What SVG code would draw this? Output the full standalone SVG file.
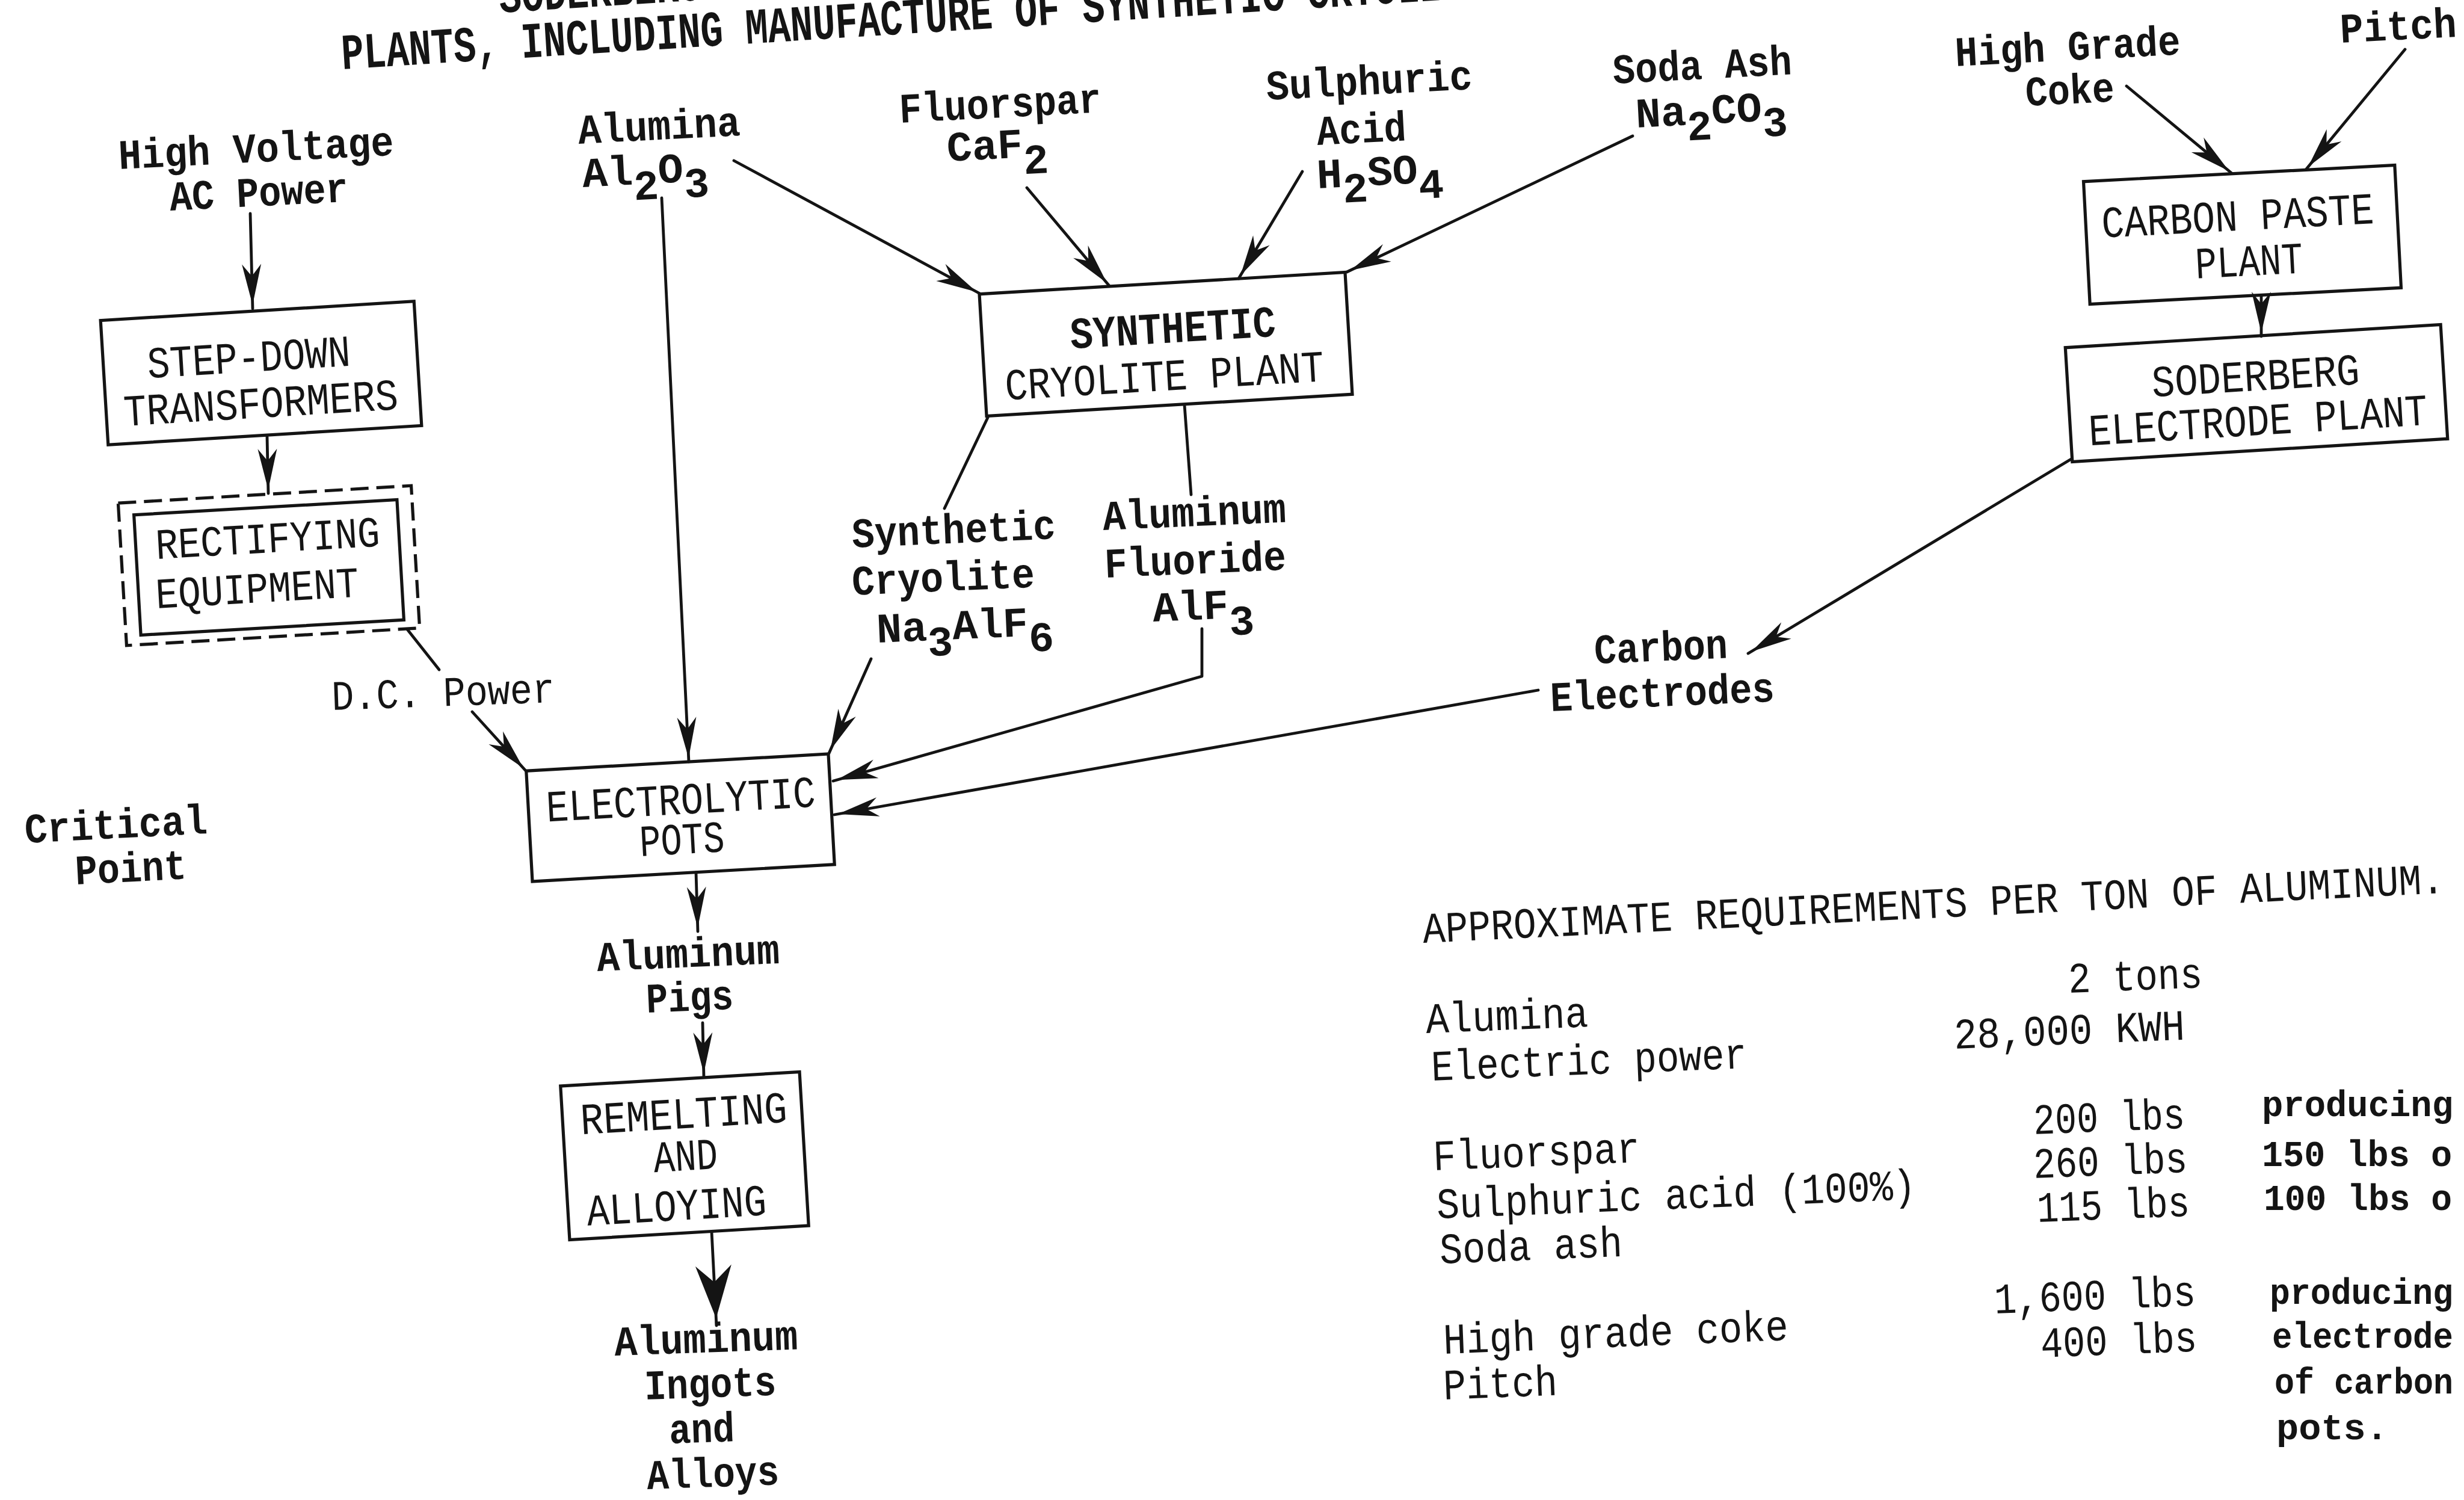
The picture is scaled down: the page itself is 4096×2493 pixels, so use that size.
<svg xmlns="http://www.w3.org/2000/svg" width="4096" height="2493" viewBox="0 0 4096 2493">
<defs>
<style>
.ln{stroke:#141414;stroke-width:4.8;fill:none;stroke-linecap:round;stroke-linejoin:round}
.bx{stroke:#141414;stroke-width:5.2;fill:none}
.dash{stroke-dasharray:30 13}
text{fill:#141414}
.lb{font-family:"Liberation Mono",monospace;font-weight:bold;font-size:70px}
.lr{font-family:"Liberation Mono",monospace;font-size:70px}
.bt{font-family:"Liberation Mono",monospace;font-size:74px;text-anchor:middle}
.tb{font-family:"Liberation Mono",monospace;font-size:72px}
.pr{font-family:"Liberation Mono",monospace;font-weight:bold;font-size:62px}
.ti{font-family:"Liberation Mono",monospace;font-weight:bold;font-size:84px}
</style>
<marker id="ah" markerUnits="userSpaceOnUse" viewBox="-72 -20 92 40" markerWidth="92" markerHeight="40" refX="6" refY="0" orient="auto"><path d="M0,0 L-68,-16 L-48,0 L-68,16 Z" fill="#141414"/></marker>
<marker id="ahb" markerUnits="userSpaceOnUse" viewBox="-100 -35 115 70" markerWidth="115" markerHeight="70" refX="12" refY="0" orient="auto"><path d="M0,0 L-88,-30 L-60,0 L-88,30 Z" fill="#141414"/></marker>
</defs>
<rect width="4096" height="2493" fill="#ffffff"/>

<g id="title">
<text class="ti" x="831" y="21" textLength="336" lengthAdjust="spacingAndGlyphs" transform="rotate(-3.6 831 21)">SODERBERG</text>
<text class="ti" x="569" y="115" textLength="1907" lengthAdjust="spacingAndGlyphs" transform="rotate(-3.6 569 115)">PLANTS, INCLUDING MANUFACTURE OF SYNTHETIC CRYOLITE</text>
</g>

<g id="connectors">
<path class="ln" d="M416,355 L420,513" marker-end="url(#ah)"/>
<path class="ln" d="M444,726 L446,820" marker-end="url(#ah)"/>
<path class="ln" d="M677,1046 L730,1113"/>
<path class="ln" d="M785,1183 L874,1281" marker-end="url(#ah)"/>
<path class="ln" d="M1100,329 L1145,1266" marker-end="url(#ah)"/>
<path class="ln" d="M1220,267 L1629,488" marker-end="url(#ah)"/>
<path class="ln" d="M1707,312 L1844,475" marker-end="url(#ah)"/>
<path class="ln" d="M2165,285 L2059,463" marker-end="url(#ah)"/>
<path class="ln" d="M2714,226 L2239,452" marker-end="url(#ah)"/>
<path class="ln" d="M1642,694 L1570,845"/>
<path class="ln" d="M1969,673 L1980,822"/>
<path class="ln" d="M1448,1095 L1378,1252" marker-end="url(#ah)"/>
<path class="ln" d="M1998,1045 L1998,1124 L1385,1298" marker-end="url(#ah)"/>
<path class="ln" d="M2557,1147 L1387,1354" marker-end="url(#ah)"/>
<path class="ln" d="M3443,763 L2906,1086" marker-end="url(#ah)"/>
<path class="ln" d="M3535,143 L3710,288" marker-end="url(#ah)"/>
<path class="ln" d="M3998,82 L3833,282" marker-end="url(#ah)"/>
<path class="ln" d="M3759,491 L3759,559" marker-end="url(#ah)"/>
<path class="ln" d="M1157,1450 L1160,1548" marker-end="url(#ah)"/>
<path class="ln" d="M1168,1700 L1170,1790" marker-end="url(#ah)"/>
<path class="ln" d="M1183,2047 L1191,2203" marker-end="url(#ahb)"/>
</g>

<g id="n-hv">
<text class="lb" x="198" y="281" textLength="458" lengthAdjust="spacingAndGlyphs" transform="rotate(-2.9 198 281)">High Voltage</text>
<text class="lb" x="283" y="350" textLength="297" lengthAdjust="spacingAndGlyphs" transform="rotate(-2.9 283 350)">AC Power</text>
</g>

<g id="n-stepdown">
<rect class="bx" x="173" y="516.5" width="522" height="207" transform="rotate(-3.5 434 620)"/>
<text class="bt" x="415" y="618" textLength="338" lengthAdjust="spacingAndGlyphs" transform="rotate(-3.5 415 618)">STEP-DOWN</text>
<text class="bt" x="435" y="694" textLength="457" lengthAdjust="spacingAndGlyphs" transform="rotate(-3.5 435 694)">TRANSFORMERS</text>
</g>

<g id="n-rectifying">
<rect class="bx dash" x="203" y="821.5" width="488" height="237" transform="rotate(-3.4 447 940)"/>
<rect class="bx" x="228" y="843" width="438" height="200" transform="rotate(-3.3 447 943)"/>
<text class="tb" font-size="74" x="260" y="929" textLength="373" lengthAdjust="spacingAndGlyphs" transform="rotate(-3.3 260 929)">RECTIFYING</text>
<text class="tb" font-size="74" x="260" y="1011" textLength="338" lengthAdjust="spacingAndGlyphs" transform="rotate(-3.3 260 1011)">EQUIPMENT</text>
</g>

<g id="n-dcpower">
<text class="lr" x="552" y="1180" textLength="371" lengthAdjust="spacingAndGlyphs" transform="rotate(-2 552 1180)">D.C. Power</text>
</g>

<g id="n-critical">
<text class="lb" x="42" y="1401" textLength="304" lengthAdjust="spacingAndGlyphs" transform="rotate(-3 42 1401)">Critical</text>
<text class="lb" x="126" y="1470" textLength="185" lengthAdjust="spacingAndGlyphs" transform="rotate(-3 126 1470)">Point</text>
</g>

<g id="n-alumina">
<text class="lb" x="962" y="239" textLength="270" lengthAdjust="spacingAndGlyphs" transform="rotate(-3 962 239)">Alumina</text>
<text class="lb" x="969" y="311" transform="rotate(-3 969 311)">Al<tspan dy="26">2</tspan><tspan dy="-26">O</tspan><tspan dy="26">3</tspan></text>
</g>

<g id="n-fluorspar">
<text class="lb" x="1496" y="204" textLength="336" lengthAdjust="spacingAndGlyphs" transform="rotate(-3 1496 204)">Fluorspar</text>
<text class="lb" x="1575" y="268" transform="rotate(-3 1575 268)">CaF<tspan dy="28">2</tspan></text>
</g>

<g id="n-sulphuric">
<text class="lb" x="2106" y="166" textLength="343" lengthAdjust="spacingAndGlyphs" transform="rotate(-3 2106 166)">Sulphuric</text>
<text class="lb" x="2190" y="241" textLength="149" lengthAdjust="spacingAndGlyphs" transform="rotate(-3 2190 241)">Acid</text>
<text class="lb" x="2190" y="313" transform="rotate(-3 2190 313)">H<tspan dy="26">2</tspan><tspan dy="-26">SO</tspan><tspan dy="26">4</tspan></text>
</g>

<g id="n-sodaash">
<text class="lb" x="2682" y="139" textLength="298" lengthAdjust="spacingAndGlyphs" transform="rotate(-3 2682 139)">Soda Ash</text>
<text class="lb" x="2720" y="212" transform="rotate(-3 2720 212)">Na<tspan dy="26">2</tspan><tspan dy="-26">CO</tspan><tspan dy="26">3</tspan></text>
</g>

<g id="n-cryolite-plant">
<rect class="bx" x="1633.5" y="470.5" width="609" height="203" transform="rotate(-3.4 1938 572)"/>
<text class="bt" x="1951" y="569" textLength="342" lengthAdjust="spacingAndGlyphs" font-weight="bold" transform="rotate(-3.4 1951 569)">SYNTHETIC</text>
<text class="bt" x="1937" y="649" textLength="531" lengthAdjust="spacingAndGlyphs" transform="rotate(-3.4 1937 649)">CRYOLITE PLANT</text>
</g>

<g id="n-synth-cryolite">
<text class="lb" x="1417" y="910" textLength="339" lengthAdjust="spacingAndGlyphs" transform="rotate(-2.5 1417 910)">Synthetic</text>
<text class="lb" x="1417" y="989" textLength="304" lengthAdjust="spacingAndGlyphs" transform="rotate(-2.5 1417 989)">Cryolite</text>
<text class="lb" x="1458" y="1068" transform="rotate(-2.5 1458 1068)">Na<tspan dy="26">3</tspan><tspan dy="-26">AlF</tspan><tspan dy="26">6</tspan></text>
</g>

<g id="n-alf3">
<text class="lb" x="1834" y="881" textLength="305" lengthAdjust="spacingAndGlyphs" transform="rotate(-2.5 1834 881)">Aluminum</text>
<text class="lb" x="1837" y="960" textLength="302" lengthAdjust="spacingAndGlyphs" transform="rotate(-2.5 1837 960)">Fluoride</text>
<text class="lb" x="1917" y="1033" transform="rotate(-2.5 1917 1033)">AlF<tspan dy="28">3</tspan></text>
</g>

<g id="n-electrolytic">
<rect class="bx" x="879.5" y="1267" width="503" height="184" transform="rotate(-3.2 1131 1359)"/>
<text class="bt" x="1133" y="1353" textLength="448" lengthAdjust="spacingAndGlyphs" transform="rotate(-3.2 1133 1353)">ELECTROLYTIC</text>
<text class="bt" x="1135" y="1419" textLength="141" lengthAdjust="spacingAndGlyphs" transform="rotate(-3.2 1135 1419)">POTS</text>
</g>

<g id="n-pigs">
<text class="lb" x="993" y="1614" textLength="304" lengthAdjust="spacingAndGlyphs" transform="rotate(-2.5 993 1614)">Aluminum</text>
<text class="lb" x="1075" y="1683" textLength="145" lengthAdjust="spacingAndGlyphs" transform="rotate(-2.5 1075 1683)">Pigs</text>
</g>

<g id="n-remelting">
<rect class="bx" x="939" y="1793" width="398" height="256" transform="rotate(-3.4 1138 1921)"/>
<text class="bt" x="1138" y="1875" textLength="344" lengthAdjust="spacingAndGlyphs" transform="rotate(-3.4 1138 1875)">REMELTING</text>
<text class="bt" x="1141" y="1945" textLength="107" lengthAdjust="spacingAndGlyphs" transform="rotate(-3.4 1141 1945)">AND</text>
<text class="bt" x="1126" y="2028" textLength="299" lengthAdjust="spacingAndGlyphs" transform="rotate(-3.4 1126 2028)">ALLOYING</text>
</g>

<g id="n-ingots">
<text class="lb" x="1022" y="2253" textLength="305" lengthAdjust="spacingAndGlyphs" transform="rotate(-2 1022 2253)">Aluminum</text>
<text class="lb" x="1072" y="2326" textLength="219" lengthAdjust="spacingAndGlyphs" transform="rotate(-2 1072 2326)">Ingots</text>
<text class="lb" x="1113" y="2399" textLength="109" lengthAdjust="spacingAndGlyphs" transform="rotate(-2 1113 2399)">and</text>
<text class="lb" x="1076" y="2475" textLength="220" lengthAdjust="spacingAndGlyphs" transform="rotate(-2 1076 2475)">Alloys</text>
</g>

<g id="n-coke">
<text class="lb" x="3251" y="110" textLength="375" lengthAdjust="spacingAndGlyphs" transform="rotate(-3 3251 110)">High Grade</text>
<text class="lb" x="3368" y="176" textLength="148" lengthAdjust="spacingAndGlyphs" transform="rotate(-3 3368 176)">Coke</text>
</g>

<g id="n-pitch">
<text class="lb" x="3891" y="71" textLength="194" lengthAdjust="spacingAndGlyphs" transform="rotate(-3 3891 71)">Pitch</text>
</g>

<g id="n-carbon-paste">
<rect class="bx" x="3468.5" y="288" width="518" height="204" transform="rotate(-3 3727.5 390)"/>
<text class="bt" x="3721" y="383" textLength="453" lengthAdjust="spacingAndGlyphs" transform="rotate(-3 3721 383)">CARBON PASTE</text>
<text class="bt" x="3740" y="458" textLength="179" lengthAdjust="spacingAndGlyphs" transform="rotate(-3 3740 458)">PLANT</text>
</g>

<g id="n-soderberg">
<rect class="bx" x="3438.5" y="558.5" width="625" height="190" transform="rotate(-3.5 3751 653.5)"/>
<text class="bt" x="3751" y="649" textLength="346" lengthAdjust="spacingAndGlyphs" transform="rotate(-3.5 3751 649)">SODERBERG</text>
<text class="bt" x="3755" y="723" textLength="564" lengthAdjust="spacingAndGlyphs" transform="rotate(-3.5 3755 723)">ELECTRODE PLANT</text>
</g>

<g id="n-carbon-electrodes">
<text class="lb" x="2651" y="1103" textLength="222" lengthAdjust="spacingAndGlyphs" transform="rotate(-2.5 2651 1103)">Carbon</text>
<text class="lb" x="2578" y="1182" textLength="373" lengthAdjust="spacingAndGlyphs" transform="rotate(-2.5 2578 1182)">Electrodes</text>
</g>

<g id="requirements">
<text class="tb" x="2366" y="1567" textLength="1700" lengthAdjust="spacingAndGlyphs" transform="rotate(-2.8 2366 1567)">APPROXIMATE REQUIREMENTS PER TON OF ALUMINUM.</text>
<text class="tb" x="2371" y="1717" textLength="270" lengthAdjust="spacingAndGlyphs" transform="rotate(-2.3 2371 1717)">Alumina</text>
<text class="tb" x="2380" y="1796" textLength="525" lengthAdjust="spacingAndGlyphs" transform="rotate(-2.3 2380 1796)">Electric power</text>
<text class="tb" x="3439" y="1650" textLength="223" lengthAdjust="spacingAndGlyphs" transform="rotate(-2.3 3439 1650)">2 tons</text>
<text class="tb" x="3249" y="1743" textLength="384" lengthAdjust="spacingAndGlyphs" transform="rotate(-2.3 3249 1743)">28,000 KWH</text>
<text class="tb" x="2383" y="1945" textLength="344" lengthAdjust="spacingAndGlyphs" transform="rotate(-2.3 2383 1945)">Fluorspar</text>
<text class="tb" x="2389" y="2025" textLength="797" lengthAdjust="spacingAndGlyphs" transform="rotate(-2.3 2389 2025)">Sulphuric acid (100%)</text>
<text class="tb" x="2394" y="2100" textLength="304" lengthAdjust="spacingAndGlyphs" transform="rotate(-2.3 2394 2100)">Soda ash</text>
<text class="tb" x="3381" y="1885" textLength="252" lengthAdjust="spacingAndGlyphs" transform="rotate(-2.3 3381 1885)">200 lbs</text>
<text class="tb" x="3381" y="1958" textLength="256" lengthAdjust="spacingAndGlyphs" transform="rotate(-2.3 3381 1958)">260 lbs</text>
<text class="tb" x="3387" y="2031" textLength="254" lengthAdjust="spacingAndGlyphs" transform="rotate(-2.3 3387 2031)">115 lbs</text>
<text class="tb" x="2400" y="2250" textLength="574" lengthAdjust="spacingAndGlyphs" transform="rotate(-2.3 2400 2250)">High grade coke</text>
<text class="tb" x="2400" y="2326" textLength="190" lengthAdjust="spacingAndGlyphs" transform="rotate(-2.3 2400 2326)">Pitch</text>
<text class="tb" x="3316" y="2183" textLength="335" lengthAdjust="spacingAndGlyphs" transform="rotate(-2.3 3316 2183)">1,600 lbs</text>
<text class="tb" x="3393" y="2256" textLength="260" lengthAdjust="spacingAndGlyphs" transform="rotate(-2.3 3393 2256)">400 lbs</text>
<text class="pr" x="3760" y="1855" textLength="318" lengthAdjust="spacingAndGlyphs">producing</text>
<text class="pr" x="3760" y="1938" textLength="316" lengthAdjust="spacingAndGlyphs">150 lbs o</text>
<text class="pr" x="3763" y="2011" textLength="313" lengthAdjust="spacingAndGlyphs">100 lbs o</text>
<text class="pr" x="3773" y="2167" textLength="305" lengthAdjust="spacingAndGlyphs">producing</text>
<text class="pr" x="3777" y="2240" textLength="301" lengthAdjust="spacingAndGlyphs">electrode</text>
<text class="pr" x="3781" y="2316" textLength="297" lengthAdjust="spacingAndGlyphs">of carbon</text>
<text class="pr" x="3784" y="2392">pots.</text>
</g>
</svg>
